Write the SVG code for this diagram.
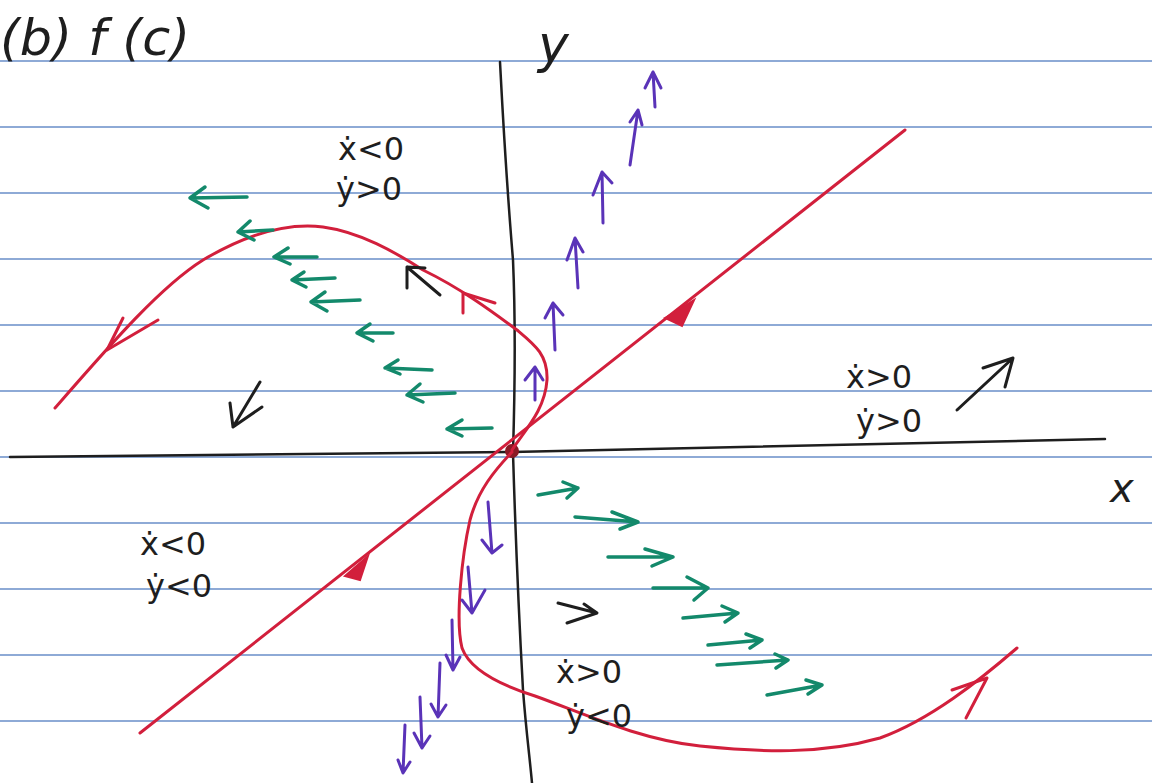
<svg xmlns="http://www.w3.org/2000/svg" width="1152" height="783" viewBox="0 0 1152 783">
<style>
.rule{stroke:#8eaad6;stroke-width:2;fill:none}
.axis{stroke:#1e1e1e;stroke-width:2.5;fill:none;stroke-linecap:round}
.red{stroke:#d21f3c;stroke-width:3;fill:none;stroke-linecap:round;stroke-linejoin:round}
.redf{fill:#d21f3c;stroke:#d21f3c;stroke-width:2}
.grn{stroke:#13896b;stroke-width:3.5;fill:none;stroke-linecap:round;stroke-linejoin:round}
.pur{stroke:#5a33b8;stroke-width:3;fill:none;stroke-linecap:round;stroke-linejoin:round}
.blk{stroke:#1e1e1e;stroke-width:3;fill:none;stroke-linecap:round;stroke-linejoin:round}
.lbl{font-family:"DejaVu Sans","Liberation Sans",sans-serif;fill:#1e1e1e}
</style>
<rect width="1152" height="783" fill="#ffffff"/>
<g id="paper">
<line class="rule" x1="0" y1="61" x2="1152" y2="61"/>
<line class="rule" x1="0" y1="127" x2="1152" y2="127"/>
<line class="rule" x1="0" y1="193" x2="1152" y2="193"/>
<line class="rule" x1="0" y1="259" x2="1152" y2="259"/>
<line class="rule" x1="0" y1="325" x2="1152" y2="325"/>
<line class="rule" x1="0" y1="391" x2="1152" y2="391"/>
<line class="rule" x1="0" y1="457" x2="1152" y2="457"/>
<line class="rule" x1="0" y1="523" x2="1152" y2="523"/>
<line class="rule" x1="0" y1="589" x2="1152" y2="589"/>
<line class="rule" x1="0" y1="655" x2="1152" y2="655"/>
<line class="rule" x1="0" y1="721" x2="1152" y2="721"/>
</g>
<g id="title">
<text class="lbl" x="0" y="55" font-size="50" font-style="italic" textLength="190" lengthAdjust="spacingAndGlyphs">(b) f (c)</text>
</g>
<g id="axes">
<path class="axis" d="M10,457 L512,452 L1105,439"/>
<path class="axis" d="M500,62 C503,120 508,200 513,260 C516,330 514,420 513,453 C515,520 518,600 523,690 C526,730 530,760 532,783"/>
<circle cx="512" cy="451" r="7" fill="#8a1a26"/>
<text class="lbl" x="538" y="62" font-size="52" font-style="italic">y</text>
<text class="lbl" x="1110" y="502" font-size="40" font-style="italic">x</text>
</g>
<g id="connectors">
<path class="red" d="M140,733 L905,130"/>
<path class="redf" d="M665,318 L694,300 L682,326 Z"/>
<path class="redf" d="M368,556 L345,576 L360,580 Z"/>
<path class="red" d="M512,450 C525,430 545,410 547,380 C548,355 535,345 517,330 C490,310 460,288 423,270 C395,252 360,232 323,227 C290,223 250,232 203,260 C160,287 110,345 55,408"/>
<path class="red" d="M123,318 L107,350 L158,320"/>
<path class="red" d="M463,313 L463,293 L495,303"/>
<path class="red" d="M512,452 C495,470 478,490 470,520 C462,555 455,620 462,648 C470,670 500,685 535,696 C580,712 640,740 700,746 C760,752 820,755 880,738 C930,720 980,680 1017,648"/>
<path class="red" d="M952,690 L987,678 L966,718"/>
<path class="grn" d="M190,198 L247,197 M205,187 L190,198 L208,208"/>
<path class="grn" d="M238,232 L273,230 M250,221 L238,232 L254,240"/>
<path class="grn" d="M274,257 L317,257 M288,248 L274,257 L290,264"/>
<path class="grn" d="M292,280 L335,278 M304,272 L292,280 L306,287"/>
<path class="grn" d="M311,302 L360,300 M325,292 L311,302 L327,311"/>
<path class="grn" d="M357,333 L393,333 M370,324 L357,333 L373,341"/>
<path class="grn" d="M385,368 L432,370 M398,360 L385,368 L400,374"/>
<path class="grn" d="M407,395 L455,393 M420,384 L407,395 L423,402"/>
<path class="grn" d="M447,429 L492,428 M462,420 L447,429 L462,436"/>
<path class="grn" d="M538,495 L578,488 M563,482 L578,488 L567,498"/>
<path class="grn" d="M575,517 L638,522 M612,512 L638,522 L620,529"/>
<path class="grn" d="M608,557 L673,557 M645,549 L673,557 L652,566"/>
<path class="grn" d="M653,588 L708,588 M687,577 L708,588 L694,600"/>
<path class="grn" d="M683,618 L738,613 M722,606 L738,613 L725,622"/>
<path class="grn" d="M708,645 L762,640 M746,634 L762,640 L750,648"/>
<path class="grn" d="M717,665 L788,660 M775,654 L788,660 L776,668"/>
<path class="grn" d="M767,695 L822,685 M806,680 L822,685 L808,694"/>
<path class="pur" d="M535,400 L535,367 M525,380 L535,367 L543,380"/>
<path class="pur" d="M555,350 L553,303 M545,318 L553,303 L563,315"/>
<path class="pur" d="M578,288 L575,238 M567,260 L575,238 L583,252"/>
<path class="pur" d="M603,223 L602,172 M593,195 L602,172 L612,183"/>
<path class="pur" d="M630,165 L638,110 M630,122 L638,110 L642,125"/>
<path class="pur" d="M655,107 L653,72 M645,88 L653,72 L661,88"/>
<path class="pur" d="M488,502 L492,553 M482,540 L492,553 L502,545"/>
<path class="pur" d="M468,567 L472,613 M462,600 L472,613 L485,590"/>
<path class="pur" d="M452,620 L453,670 M446,655 L453,670 L460,657"/>
<path class="pur" d="M440,663 L438,717 M431,704 L438,717 L446,705"/>
<path class="pur" d="M420,697 L422,748 M414,733 L422,748 L430,736"/>
<path class="pur" d="M405,725 L403,773 M398,760 L403,773 L410,762"/>
<path class="blk" d="M440,295 L407,267 M407,288 L407,267 L425,268"/>
<path class="blk" d="M260,382 L233,427 M230,403 L233,427 L262,407"/>
<path class="blk" d="M957,410 L1013,358 M983,368 L1013,358 L1005,387"/>
<path class="blk" d="M558,603 L597,613 L567,623 M584,604 L597,613"/>
</g>
<g id="labels" class="lbl" font-size="32">
<text x="338" y="160">ẋ&lt;0</text>
<text x="336" y="200">ẏ&gt;0</text>
<text x="846" y="388">ẋ&gt;0</text>
<text x="856" y="432">ẏ&gt;0</text>
<text x="140" y="555">ẋ&lt;0</text>
<text x="146" y="597">ẏ&lt;0</text>
<text x="556" y="683">ẋ&gt;0</text>
<text x="566" y="727">ẏ&lt;0</text>
</g>
</svg>
